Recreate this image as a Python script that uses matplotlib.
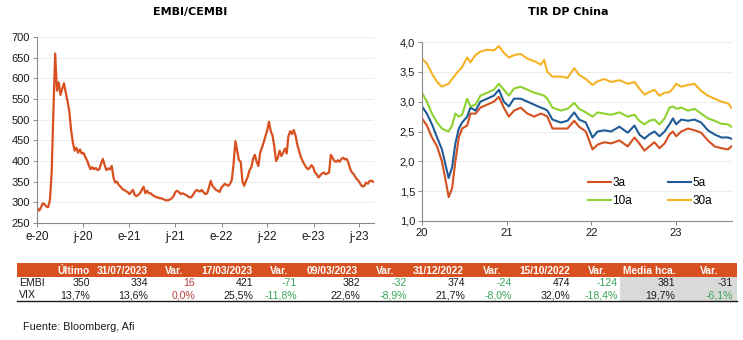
import matplotlib
matplotlib.use("Agg")
import matplotlib.pyplot as plt
import pandas as pd
from matplotlib.ticker import FuncFormatter

# EMBI/CEMBI spread, weekly closes (Fridays) from Jan 2020
embi = [285, 280, 288, 298, 295, 290, 288, 305, 370, 520, 660, 570, 590, 560, 575, 588,
        565, 545, 520, 475, 445, 425, 432, 420, 428, 418, 420, 410, 402, 390, 380, 385,
        380, 383, 378, 380, 395, 405, 390, 378, 382, 380, 388, 360, 348, 350, 342, 338,
        332, 330, 327, 325, 320, 325, 330, 318, 315, 318, 322, 330, 338, 322, 328, 322,
        322, 318, 315, 313, 312, 310, 310, 308, 306, 305, 305, 307, 310, 315, 325, 328,
        325, 320, 322, 320, 318, 315, 312, 312, 318, 325, 330, 328, 326, 330, 324, 320,
        322, 335, 352, 340, 335, 330, 328, 325, 335, 340, 345, 342, 340, 345, 355, 395,
        448, 425, 402, 398, 350, 340, 352, 362, 378, 385, 405, 415, 398, 388, 420, 432,
        445, 460, 475, 495, 472, 462, 435, 400, 408, 425, 412, 420, 430, 418, 460, 472,
        465, 475, 462, 440, 425, 410, 400, 392, 385, 380, 383, 390, 385, 372, 368, 360,
        365, 370, 372, 368, 370, 372, 415, 408, 400, 398, 402, 398, 405, 408, 404, 405,
        395, 380, 372, 368, 360, 355, 350, 342, 338, 340, 348, 345, 352, 352, 350]
embi_ticks = ["2020-01-01", "2020-07-01", "2021-01-01", "2021-07-01",
              "2022-01-01", "2022-07-01", "2023-01-01", "2023-07-01"]
embi_tick_labels = ["e-20", "j-20", "e-21", "j-21", "e-22", "j-22", "e-23", "j-23"]

# China government bond yields (%), by tenor
china_dates = ["2020-01-01", "2020-01-22", "2020-02-13", "2020-03-06", "2020-03-27", "2020-04-11",
               "2020-04-25", "2020-05-10", "2020-05-24", "2020-06-08", "2020-06-22", "2020-07-14",
               "2020-07-28", "2020-08-19", "2020-09-09", "2020-10-08", "2020-11-06", "2020-11-28",
               "2020-12-19", "2021-01-10", "2021-02-01", "2021-03-02", "2021-03-31", "2021-04-29",
               "2021-05-28", "2021-06-11", "2021-06-25", "2021-07-17", "2021-08-22", "2021-09-20",
               "2021-10-19", "2021-11-09", "2021-12-08", "2022-01-06", "2022-01-28", "2022-02-26",
               "2022-03-27", "2022-05-02", "2022-06-07", "2022-07-06", "2022-07-27", "2022-08-18",
               "2022-09-08", "2022-09-30", "2022-10-22", "2022-11-13", "2022-12-04", "2022-12-19",
               "2023-01-02", "2023-01-24", "2023-02-22", "2023-03-22", "2023-04-20", "2023-05-19",
               "2023-06-17", "2023-07-16", "2023-08-14", "2023-08-28"]
y3 = [2.72, 2.60, 2.40, 2.25, 2.00, 1.70, 1.40, 1.55, 2.00, 2.40, 2.55, 2.60,
      2.80, 2.80, 2.90, 2.95, 3.00, 3.08, 2.90, 2.75, 2.85, 2.90, 2.80, 2.75,
      2.80, 2.78, 2.75, 2.55, 2.55, 2.55, 2.68, 2.58, 2.50, 2.20, 2.28, 2.32,
      2.30, 2.35, 2.25, 2.40, 2.30, 2.18, 2.25, 2.32, 2.22, 2.30, 2.45, 2.50,
      2.42, 2.50, 2.55, 2.52, 2.48, 2.35, 2.25, 2.22, 2.20, 2.25]
y5 = [2.92, 2.80, 2.62, 2.40, 2.20, 1.95, 1.72, 1.90, 2.30, 2.55, 2.65, 2.75,
      2.90, 2.85, 3.00, 3.05, 3.10, 3.20, 3.00, 2.92, 3.05, 3.05, 3.00, 2.95,
      2.90, 2.88, 2.85, 2.70, 2.65, 2.68, 2.82, 2.70, 2.65, 2.40, 2.50, 2.52,
      2.50, 2.58, 2.48, 2.60, 2.45, 2.38, 2.45, 2.50, 2.42, 2.50, 2.62, 2.72,
      2.62, 2.70, 2.68, 2.70, 2.65, 2.52, 2.45, 2.40, 2.40, 2.38]
y10 = [3.15, 3.00, 2.80, 2.65, 2.55, 2.52, 2.50, 2.60, 2.80, 2.75, 2.78, 3.05,
       2.92, 2.95, 3.10, 3.15, 3.20, 3.30, 3.20, 3.10, 3.22, 3.25, 3.20, 3.15,
       3.12, 3.10, 3.05, 2.90, 2.85, 2.88, 2.98, 2.88, 2.82, 2.75, 2.82, 2.80,
       2.78, 2.82, 2.75, 2.78, 2.68, 2.62, 2.68, 2.70, 2.62, 2.72, 2.90, 2.92,
       2.88, 2.90, 2.85, 2.88, 2.80, 2.72, 2.68, 2.63, 2.62, 2.58]
y30 = [3.72, 3.64, 3.47, 3.33, 3.25, 3.28, 3.30, 3.38, 3.45, 3.52, 3.58, 3.74,
       3.66, 3.78, 3.84, 3.87, 3.86, 3.93, 3.82, 3.74, 3.78, 3.80, 3.72, 3.68,
       3.62, 3.70, 3.50, 3.42, 3.42, 3.40, 3.56, 3.45, 3.38, 3.28, 3.34, 3.38,
       3.33, 3.36, 3.30, 3.33, 3.22, 3.12, 3.16, 3.20, 3.10, 3.15, 3.16, 3.22,
       3.30, 3.25, 3.28, 3.30, 3.18, 3.10, 3.05, 3.00, 2.97, 2.90]
tenors = ["3a", "5a", "10a", "30a"]
china_ticks = ["2020-01-01", "2021-01-01", "2022-01-01", "2023-01-01"]
china_tick_labels = ["20", "21", "22", "23"]

# summary table
headers = ["Último", "31/07/2023", "Var.", "17/03/2023", "Var.", "09/03/2023", "Var.",
           "31/12/2022", "Var.", "15/10/2022", "Var.", "Media hca.", "Var."]
row_names = ["EMBI", "VIX"]
embi_row = ["350", "334", "16", "421", "-71", "382", "-32", "374", "-24", "474", "-124", "381", "-31"]
vix_row = ["13,7%", "13,6%", "0,0%", "25,5%", "-11,8%", "22,6%", "-8,9%", "21,7%", "-8,0%",
           "32,0%", "-18,4%", "19,7%", "-6,1%"]

ORANGE = "#d8501f"
RED_TXT, GREEN_TXT, INK = "#b8403a", "#3aa35a", "#1a1a1a"
LINE_COLORS = ["#d4501f", "#1f5b96", "#8dd22e", "#f4b224"]
GRID, SPINE = "#ececec", "#8a8a8a"

plt.rcParams.update({"font.family": ["Liberation Sans", "DejaVu Sans"], "font.size": 7.5})

W, H = 743, 340
fig = plt.figure(figsize=(W / 100, H / 100), dpi=100)


def px_axes(x0, y0, x1, y1):
    return fig.add_axes([x0 / W, 1 - y1 / H, (x1 - x0) / W, (y1 - y0) / H])


def style(ax):
    for s in ("top", "right"):
        ax.spines[s].set_visible(False)
    for s in ("left", "bottom"):
        ax.spines[s].set_color(SPINE)
        ax.spines[s].set_linewidth(0.8)
    ax.grid(axis="y", color=GRID, linewidth=0.7)
    ax.set_axisbelow(True)
    ax.tick_params(length=3, width=0.7, color=SPINE, labelcolor=INK, labelsize=8, pad=2)


# ── EMBI/CEMBI ──
ax1 = px_axes(37, 37, 374, 223)
dates = pd.date_range("2020-01-03", periods=len(embi), freq="W-FRI")
ax1.plot(dates, embi, color=ORANGE, linewidth=1.6)
ax1.set_ylim(250, 700)
ax1.set_yticks(range(250, 701, 50))
ax1.set_xlim(pd.Timestamp("2020-01-01"), pd.Timestamp("2023-08-28"))
ax1.set_xticks(pd.to_datetime(embi_ticks))
ax1.set_xticklabels(embi_tick_labels)
style(ax1)
ax1.tick_params(axis="x", labelsize=8.5, pad=3)
fig.text(190 / W, 1 - 12 / H, "EMBI/CEMBI", ha="center", va="center",
         fontsize=8, fontweight="bold", family="DejaVu Sans")

# ── TIR DP China ──
ax2 = px_axes(422, 42, 732, 221)
cdates = pd.to_datetime(china_dates)
lines = []
for name, vals, c in zip(tenors, [y3, y5, y10, y30], LINE_COLORS):
    lines += ax2.plot(cdates, vals, color=c, linewidth=1.5, label=name)
ax2.set_ylim(1.0, 4.0)
ax2.set_yticks([1.0, 1.5, 2.0, 2.5, 3.0, 3.5, 4.0])
ax2.yaxis.set_major_formatter(FuncFormatter(lambda v, p: f"{v:.1f}".replace(".", ",")))
ax2.set_xlim(pd.Timestamp("2020-01-01"), pd.Timestamp("2023-08-31"))
ax2.set_xticks(pd.to_datetime(china_ticks))
ax2.set_xticklabels(china_tick_labels)
style(ax2)
# column-major fill: order handles so rows read 3a/5a and 10a/30a
order = [0, 2, 1, 3]
ax2.legend([lines[i] for i in order], [tenors[i] for i in order],
           loc="lower right", bbox_to_anchor=(0.97, 0.02), ncol=2, frameon=False,
           fontsize=8.5, handlelength=2.0, handletextpad=0.1, columnspacing=3.0,
           labelspacing=0.45)
fig.text(568 / W, 1 - 12 / H, "TIR DP China", ha="center", va="center",
         fontsize=8, fontweight="bold", family="DejaVu Sans")

# ── summary table ──
tab = fig.add_axes([0, 0, 1, 1])
tab.set_xlim(0, W)
tab.set_ylim(H, 0)
tab.axis("off")
tab.add_patch(plt.Rectangle((17, 263), 720, 14, color=ORANGE, lw=0))
tab.add_patch(plt.Rectangle((620, 277), 117, 24, color="#d9d9d9", lw=0))
tab.plot([17, 737], [301, 301], color=INK, linewidth=1)

head_x = [73, 122, 174, 227, 279, 332, 385, 438, 492, 545, 597, 649, 709]
val_x = [90, 148, 195, 253, 297, 360, 407, 465, 512, 570, 618, 675, 733]
for h, x in zip(headers, head_x):
    tab.text(x, 270.5, h, ha="center", va="center", color="white",
             fontsize=7.4, fontweight="bold")

for row, name, y in zip([embi_row, vix_row], row_names, [283, 295]):
    tab.text(19, y, name, ha="left", va="center", color=INK, fontsize=7.6)
    for i, (v, x) in enumerate(zip(row, val_x)):
        color = INK
        if headers[i] == "Var." and i < len(headers) - 1:
            color = GREEN_TXT if v.startswith("-") else RED_TXT
        elif headers[i] == "Var." and row is vix_row:
            color = GREEN_TXT
        tab.text(x, y, v, ha="right", va="center", color=color, fontsize=7.6)

tab.text(23, 327, "Fuente: Bloomberg, Afi", ha="left", va="center", color=INK, fontsize=7.8)

fig.savefig("out.png", dpi=100)
